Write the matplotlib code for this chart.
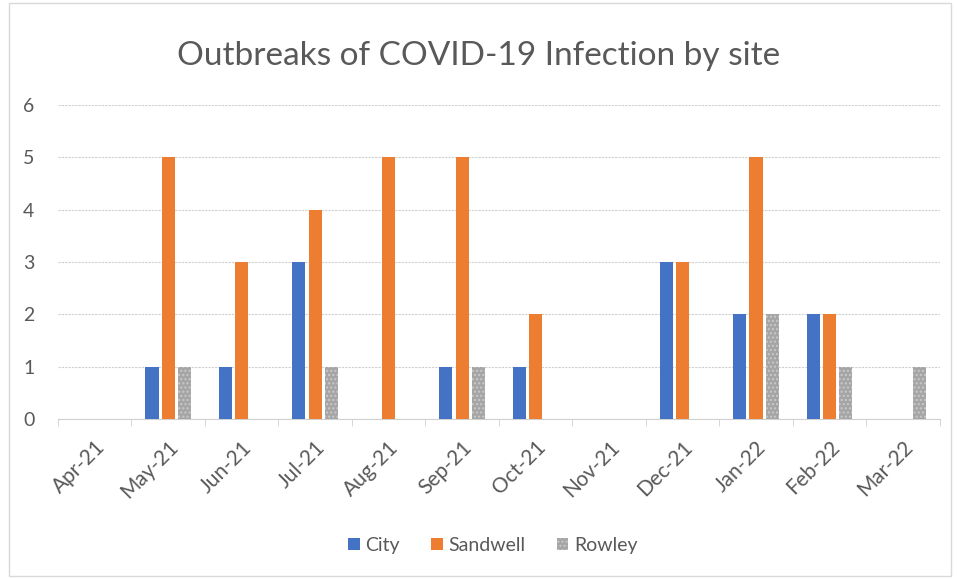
import numpy as np
import matplotlib.pyplot as plt
from matplotlib.patches import Rectangle

months = ["Apr-21", "May-21", "Jun-21", "Jul-21", "Aug-21", "Sep-21",
          "Oct-21", "Nov-21", "Dec-21", "Jan-22", "Feb-22", "Mar-22"]
city = [0, 1, 1, 3, 0, 1, 1, 0, 3, 2, 2, 0]
sandwell = [0, 5, 3, 4, 5, 5, 2, 0, 3, 5, 2, 0]
rowley = [0, 1, 0, 1, 0, 1, 0, 0, 0, 2, 1, 1]

plt.rcParams['font.family'] = ['Lato', 'DejaVu Sans']
text_color = "#595959"

fig = plt.figure(figsize=(9.57, 5.79), dpi=100)
ax = fig.add_axes([0.0606, 0.2763, 0.9214, 0.5424])

x = np.arange(len(months))
w = 0.18
step = 0.222
ax.bar(x - step, city, w, color="#4472C4", label="City", zorder=3)
ax.bar(x, sandwell, w, color="#ED7D31", label="Sandwell", zorder=3)
ax.bar(x + step, rowley, w, color="#A5A5A5", label="Rowley", zorder=3,
       hatch="....", edgecolor="#C9C9C9", linewidth=0)

ax.set_xlim(-0.5, len(months) - 0.5)
ax.set_ylim(0, 6)
ax.set_yticks(range(0, 7))
ax.yaxis.grid(True, color="#D0D0D0", linestyle=(0, (2, 1)), linewidth=0.8, zorder=0)
ax.set_xticks(x)
ax.set_xticklabels(months, rotation=45, ha="right", rotation_mode="anchor",
                   color=text_color, fontsize=15)
ax.set_xticks(np.arange(-0.5, len(months)), minor=True)
ax.tick_params(axis="x", which="major", length=0, pad=13)
ax.tick_params(axis="x", which="minor", length=5, color="#D0D0D0")
ax.tick_params(axis="y", length=0, pad=17, labelcolor=text_color, labelsize=14)
for s in ["top", "right", "left"]:
    ax.spines[s].set_visible(False)
ax.spines["bottom"].set_color("#D0D0D0")

fig.text(0.5, 0.903, "Outbreaks of COVID-19 Infection by site", ha="center",
         va="center", fontsize=24, color=text_color)

leg = fig.legend(loc="center", bbox_to_anchor=(0.515, 0.058), ncol=3, frameon=False,
                 fontsize=14, handlelength=0.6, handleheight=0.6,
                 handletextpad=0.3, columnspacing=1.6)
for t in leg.get_texts():
    t.set_color(text_color)

fig.patches.append(Rectangle((0.009, 0.005), 0.985, 0.99, transform=fig.transFigure,
                             fill=False, edgecolor="#D9D9D9", linewidth=1))

fig.savefig("out.png", dpi=100)
